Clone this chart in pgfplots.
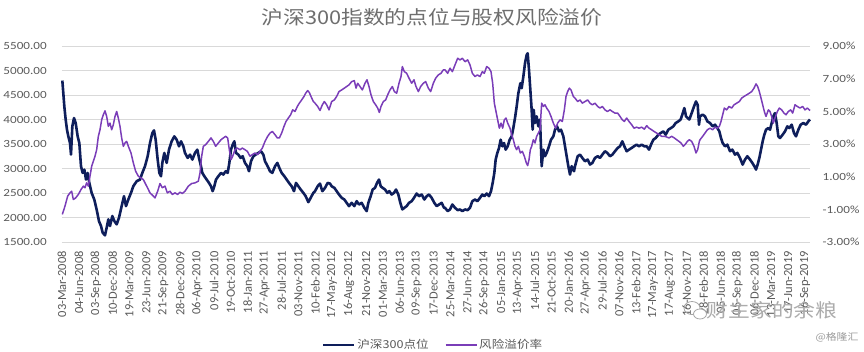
\documentclass[border=0pt]{standalone}
\usepackage{fontspec}
\setmainfont{Carlito}
\newfontfamily\ylabfont{Carlito}[FakeStretch=1.2]
\newfontfamily\cjkw{Noto Sans CJK SC}[FakeStretch=1.15]
\usepackage{pgfplots}
\usepackage{pgfplotstable}
\pgfplotsset{compat=1.18}
\definecolor{navy}{HTML}{0E1E5B}
\definecolor{purp}{HTML}{7A3DB8}
\definecolor{gridc}{HTML}{D9D9D9}
\definecolor{txt}{HTML}{595959}
\definecolor{ttl}{HTML}{6E6E6E}

% o = segment offset (px), z = position in segment (1/3 px), v = value
\pgfplotstableread{
o z v
55 22 4795
55 28 4266
55 32 4000
55 36 3790
55 40 3656
55 45 3520
55 48 3283
55 52 3860
55 57 4030
55 62 3930
55 68 3656
55 73 3520
55 78 3046
55 83 2910
55 88 2978
55 93 2774
55 98 2910
55 103 2706
55 110 2500
55 118 2364
55 125 2160
55 132 1925
55 138 1826
55 143 1690
55 150 1635
55 155 1792
55 160 1962
55 165 1826
55 172 2030
55 178 1928
55 185 1860
55 192 1996
55 200 2232
55 207 2435
55 213 2232
55 220 2368
55 228 2503
55 235 2639
55 245 2740
55 255 2774
55 262 2910
55 270 3046
55 278 3250
55 285 3520
55 292 3724
55 297 3778
55 302 3588
55 308 3182
55 313 2910
55 318 2842
55 322 3114
55 328 3318
55 335 3114
55 342 3385
55 350 3555
55 358 3656
55 365 3588
55 372 3453
55 378 3555
55 385 3453
185 0 3318
185 8 3216
185 15 3283
185 22 3182
185 30 3318
185 37 3385
185 42 3216
185 48 3046
185 52 2910
185 58 2842
185 65 2774
185 72 2706
185 78 2638
185 83 2537
185 88 2638
185 93 2774
185 100 2842
185 108 2910
185 115 2876
185 122 2944
185 128 2910
185 133 3114
185 138 3385
185 143 3487
185 148 3555
185 153 3318
185 160 3283
185 167 3216
185 173 3250
185 180 3114
185 187 3046
185 192 2944
185 198 3148
185 205 3250
185 212 3283
185 220 3318
185 228 3352
185 235 3283
185 240 3148
185 248 3046
185 255 2944
185 262 2910
185 270 3046
185 277 3114
185 283 3012
185 290 2910
185 298 2842
185 305 2774
185 312 2706
185 320 2638
185 327 2537
185 333 2706
185 340 2638
185 347 2571
185 355 2503
185 362 2435
185 370 2313
185 377 2401
185 385 2503
315 0 2537
315 8 2638
315 15 2692
315 22 2537
315 30 2605
315 38 2706
315 45 2692
315 50 2638
315 58 2605
315 65 2537
315 72 2469
315 80 2401
315 88 2367
315 95 2299
315 102 2232
315 110 2299
315 118 2232
315 125 2333
315 132 2265
315 140 2299
315 148 2198
315 155 2130
315 160 2299
315 167 2435
315 173 2571
315 180 2605
315 186 2706
315 192 2774
315 197 2638
315 203 2605
315 210 2571
315 217 2503
315 223 2537
315 230 2469
315 237 2503
315 243 2571
315 250 2469
315 256 2299
315 262 2164
315 268 2198
315 275 2232
315 282 2299
315 290 2333
315 297 2401
315 305 2489
315 312 2435
315 320 2469
315 328 2367
315 335 2435
315 342 2469
315 350 2401
315 358 2299
315 365 2232
315 372 2265
315 380 2299
315 387 2198
445 0 2198
445 8 2130
445 15 2164
445 22 2265
445 30 2198
445 38 2150
445 45 2164
445 52 2130
445 60 2164
445 68 2150
445 75 2198
445 82 2333
445 90 2367
445 97 2333
445 105 2401
445 112 2469
445 118 2435
445 125 2489
445 132 2435
445 138 2537
445 143 2706
445 148 2910
445 152 3182
445 157 3318
445 162 3420
445 167 3588
445 172 3453
445 177 3520
445 182 3385
445 188 3453
445 194 3588
445 200 3656
445 205 3826
445 210 4030
445 215 4266
445 220 4537
445 226 4741
445 230 4639
445 235 4876
445 240 5148
445 245 5317
445 248 5351
445 252 5012
445 256 4605
445 260 4198
445 263 3792
445 266 4198
445 270 3928
445 275 4064
445 280 3860
445 285 4000
445 290 3046
445 295 3385
445 300 3250
445 305 3318
445 312 3453
445 318 3588
445 325 3656
445 330 3792
445 336 3860
445 342 3758
445 348 3792
445 355 3656
445 360 3453
445 365 3250
445 370 3046
445 375 2876
445 380 3046
445 387 2944
575 0 3046
575 8 3250
575 15 3283
575 22 3216
575 30 3148
575 38 3182
575 45 3080
575 52 3114
575 60 3216
575 68 3250
575 75 3216
575 82 3283
575 90 3352
575 97 3318
575 105 3250
575 112 3283
575 120 3352
575 128 3420
575 135 3453
575 142 3555
575 148 3453
575 155 3352
575 162 3385
575 170 3420
575 177 3453
575 185 3487
575 192 3453
575 200 3487
575 208 3453
575 215 3453
575 222 3385
575 228 3487
575 235 3588
575 242 3622
575 250 3690
575 257 3724
575 265 3758
575 272 3690
575 280 3792
575 288 3826
575 295 3860
575 302 3928
575 310 3962
575 317 4000
575 322 4100
575 328 4233
575 333 4064
575 338 4030
575 343 4000
575 350 4130
575 357 4266
575 363 4368
575 368 4300
575 372 3894
700 0 4064
700 8 4100
700 15 4064
700 22 3962
700 30 3928
700 38 3860
700 45 3894
700 52 3826
700 58 3758
700 63 3622
700 68 3520
700 75 3453
700 82 3487
700 90 3352
700 97 3385
700 105 3283
700 112 3318
700 120 3216
700 128 3080
700 135 3182
700 142 3250
700 150 3182
700 157 3114
700 163 3046
700 168 2978
700 173 3080
700 178 3216
700 183 3385
700 188 3555
700 193 3690
700 198 3792
700 205 3826
700 210 3792
700 215 3928
700 220 4064
700 225 4130
700 230 3928
700 235 3656
700 240 3622
700 248 3690
700 255 3758
700 262 3860
700 268 3826
700 275 3894
700 282 3724
700 288 3656
700 295 3792
700 302 3894
700 310 3928
700 318 3894
700 325 3962
700 330 4000
}\hsdata

\pgfplotstableread{
o z v
55 22 -1.31
55 30 -0.80
55 38 -0.19
55 45 0.01
55 50 0.11
55 55 -0.40
55 62 -0.30
55 70 -0.09
55 78 0.21
55 85 0.42
55 90 0.32
55 95 0.62
55 100 0.42
55 105 1.03
55 110 1.64
55 115 1.94
55 120 2.25
55 125 2.65
55 130 3.47
55 135 3.87
55 140 4.48
55 145 4.79
55 150 5.03
55 155 4.69
55 160 4.08
55 165 4.28
55 170 3.87
55 175 4.18
55 180 4.69
55 185 4.99
55 190 4.59
55 195 4.08
55 200 3.37
55 205 2.86
55 210 3.06
55 215 3.16
55 220 2.86
55 228 2.45
55 235 1.84
55 242 1.33
55 250 1.03
55 258 0.92
55 265 0.82
55 275 0.42
55 285 0.01
55 295 -0.19
55 300 -0.30
55 308 0.11
55 315 0.58
55 322 0.32
55 330 0.42
55 337 0.01
55 345 0.11
55 352 -0.09
55 360 0.01
55 368 -0.09
55 375 0.05
55 382 -0.03
185 0 0.11
185 10 0.42
185 20 0.58
185 30 0.62
185 40 0.72
185 45 1.23
185 50 2.25
185 55 2.86
185 62 2.96
185 70 3.16
185 78 3.37
185 85 3.16
185 92 2.86
185 100 3.06
185 108 3.26
185 115 3.37
185 122 3.47
185 128 3.37
185 133 2.65
185 138 2.04
185 143 2.25
185 150 2.65
185 157 2.75
185 165 2.65
185 172 2.75
185 180 2.65
185 187 2.55
185 195 2.25
185 202 2.35
185 210 2.45
185 218 2.35
185 225 2.55
185 232 2.75
185 240 3.16
185 248 3.47
185 255 3.67
185 262 3.77
185 270 3.57
185 277 3.37
185 283 3.37
185 290 3.67
185 297 4.08
185 303 4.38
185 310 4.59
185 317 4.79
185 323 5.09
185 330 4.99
185 337 5.30
185 343 5.50
185 350 5.70
185 357 5.91
185 362 6.11
185 368 6.27
185 373 6.15
185 378 5.91
185 385 5.60
315 0 5.50
315 8 5.30
315 15 5.05
315 22 5.40
315 28 5.60
315 35 5.40
315 42 5.09
315 50 5.60
315 58 5.70
315 65 5.91
315 72 6.21
315 80 6.31
315 88 6.42
315 95 6.52
315 102 6.62
315 110 6.82
315 118 6.88
315 123 6.42
315 128 6.72
315 135 6.52
315 142 6.31
315 150 6.72
315 156 6.93
315 162 6.52
315 168 6.01
315 175 5.60
315 182 5.40
315 188 5.20
315 193 4.93
315 198 5.30
315 205 5.60
315 212 5.70
315 218 6.01
315 225 6.31
315 232 6.52
315 238 6.21
315 245 6.11
315 252 6.72
315 258 7.13
315 262 7.74
315 268 7.43
315 275 7.33
315 282 7.03
315 290 6.72
315 297 6.93
315 303 6.52
315 310 6.21
315 317 6.52
315 325 6.72
315 332 6.82
315 340 6.42
315 347 6.21
315 355 6.72
315 362 7.03
315 370 7.23
315 378 7.33
315 385 7.54
445 0 7.54
445 8 7.33
445 15 7.64
445 22 7.43
445 30 7.84
445 38 8.25
445 45 8.15
445 52 8.25
445 60 8.04
445 68 8.15
445 75 7.84
445 82 7.33
445 90 7.13
445 97 7.23
445 105 7.13
445 112 7.43
445 118 7.33
445 125 7.74
445 132 7.64
445 138 7.43
445 143 6.72
445 148 5.50
445 153 4.99
445 158 4.48
445 163 3.97
445 168 4.28
445 173 3.97
445 178 4.48
445 183 4.59
445 188 4.28
445 195 3.97
445 200 3.57
445 205 3.26
445 210 2.86
445 215 2.65
445 220 2.86
445 226 2.45
445 232 2.55
445 238 2.25
445 244 1.84
445 248 1.68
445 252 2.04
445 256 2.65
445 260 2.86
445 265 3.26
445 270 3.06
445 275 3.47
445 280 3.67
445 285 3.87
445 290 5.50
445 295 5.30
445 300 5.40
445 305 5.20
445 312 4.99
445 318 4.69
445 325 4.28
445 332 3.97
445 338 4.28
445 345 4.48
445 352 4.38
445 358 5.09
445 363 5.91
445 368 6.21
445 373 6.42
445 378 6.31
445 385 5.91
575 0 5.81
575 8 5.60
575 15 5.70
575 22 5.50
575 30 5.60
575 38 5.70
575 45 5.50
575 52 5.40
575 60 5.50
575 68 5.30
575 75 5.20
575 82 5.30
575 90 5.09
575 97 4.99
575 105 5.09
575 112 4.99
575 120 4.89
575 128 4.89
575 135 4.69
575 142 4.48
575 148 4.38
575 155 4.59
575 162 4.38
575 170 4.18
575 177 3.97
575 185 4.03
575 192 3.97
575 200 4.03
575 208 3.91
575 215 4.12
575 222 3.97
575 230 3.87
575 237 3.77
575 245 3.67
575 252 3.57
575 260 3.47
575 268 3.47
575 275 3.43
575 282 3.37
575 290 3.47
575 298 3.37
575 305 3.26
575 312 3.16
575 318 3.06
575 325 2.86
575 330 2.96
575 337 3.16
575 343 3.26
575 350 3.16
575 357 2.86
575 363 2.45
575 368 2.65
575 373 3.16
700 0 3.26
700 8 3.47
700 15 3.67
700 22 3.87
700 30 3.97
700 38 3.87
700 45 4.03
700 52 3.97
700 58 4.08
700 63 4.38
700 68 4.79
700 73 5.20
700 80 5.09
700 87 5.30
700 95 5.20
700 102 5.40
700 110 5.50
700 118 5.60
700 125 5.81
700 132 5.91
700 140 6.01
700 148 6.11
700 155 6.21
700 162 6.42
700 168 6.68
700 173 6.52
700 178 6.21
700 183 5.81
700 188 5.40
700 193 4.99
700 198 4.69
700 205 5.09
700 210 4.99
700 215 4.69
700 220 4.28
700 225 4.59
700 232 4.99
700 238 5.20
700 245 5.09
700 252 4.89
700 258 4.79
700 265 4.99
700 272 5.09
700 278 4.89
700 285 5.40
700 292 5.30
700 300 5.20
700 308 5.30
700 315 5.09
700 322 5.20
700 330 5.05
}\erpdata

\pgfplotsset{
  common/.style={
    scale only axis, width=748bp, height=196bp,
    at={(62bp,110bp)}, anchor=south west,
    xmin=62, xmax=810,
    axis line style={draw=none},
    major tick length=0pt, minor tick num=0,
    /pgf/number format/assume math mode=true,
    tick label style={text=txt},
    clip=false,
  },
}

\begin{document}
\begin{tikzpicture}
\useasboundingbox (0,0) rectangle (864bp,352bp);
\begin{axis}[common,
  ymin=1500, ymax=5500,
  ytick={1500,2000,...,5500},
  ymajorgrids, grid style={gridc, line width=0.9bp},
  yticklabel={\pgfmathprintnumber[fixed,fixed zerofill,precision=2,1000 sep={}]{\tick}},
  yticklabel style={font=\ylabfont\fontsize{11}{13}\selectfont, anchor=east, inner sep=0pt},
  yticklabel shift=15bp,
  xtick={62.0,78.9,95.8,112.7,129.5,146.4,163.3,180.2,197.1,214.0,230.9,247.7,264.6,281.5,298.4,315.3,332.2,349.1,366.0,382.8,399.7,416.6,433.5,450.4,467.3,484.2,501.0,517.9,534.8,551.7,568.6,585.5,602.4,619.2,636.1,653.0,669.9,686.8,703.7,720.6,737.4,754.3,771.2,788.1,805.0},
  xticklabels={03-Mar-2008,04-Jun-2008,03-Sep-2008,10-Dec-2008,19-Mar-2009,23-Jun-2009,21-Sep-2009,28-Dec-2009,06-Apr-2010,09-Jul-2010,19-Oct-2010,18-Jan-2011,27-Apr-2011,28-Jul-2011,03-Nov-2011,10-Feb-2012,17-May-2012,16-Aug-2012,21-Nov-2012,01-Mar-2013,06-Jun-2013,09-Sep-2013,17-Dec-2013,25-Mar-2014,27-Jun-2014,26-Sep-2014,05-Jan-2015,13-Apr-2015,14-Jul-2015,21-Oct-2015,20-Jan-2016,27-Apr-2016,29-Jul-2016,07-Nov-2016,13-Feb-2017,17-May-2017,17-Aug-2017,16-Nov-2017,28-Feb-2018,05-Jun-2018,05-Sep-2018,06-Dec-2018,13-Mar-2019,17-Jun-2019,16-Sep-2019},
  xticklabel style={font=\fontsize{12.5}{14}\selectfont, rotate=90, anchor=east, inner sep=0pt},
  xticklabel shift=9bp,
]
\addplot[navy, line width=2.6bp, line join=round] table[x expr=\thisrow{o}+\thisrow{z}/3, y=v]{\hsdata};
\end{axis}
\begin{axis}[common,
  ymin=-3, ymax=9,
  ytick={-3,-1,...,9},
  axis y line*=right, hide x axis,
  yticklabel={\pgfmathprintnumber[fixed,fixed zerofill,precision=2]{\tick}\%},
  yticklabel style={font=\ylabfont\fontsize{11}{13}\selectfont, anchor=west, inner sep=0pt},
  yticklabel shift=12.5bp,
  legend style={at={(0.496,-0.526)}, anchor=center, legend columns=2, draw=none, fill=none,
    font=\cjkw\fontsize{11}{13}\selectfont, text=txt,
    /tikz/every even column/.append style={column sep=14bp}},
  legend image code/.code={\draw[#1] (0bp,0bp) -- (31bp,0bp);},
]
\addlegendimage{navy, line width=2.6bp}
\addlegendentry{沪深300点位}
\addplot[purp, line width=1.5bp, line join=round] table[x expr=\thisrow{o}+\thisrow{z}/3, y=v]{\erpdata};
\addlegendentry{风险溢价率}
\end{axis}
\node[text=ttl, font=\cjkw\fontsize{19}{22}\selectfont] at (432bp,335bp) {沪深300指数的点位与股权风险溢价};
% watermark
\draw[gray!70, line width=0.8bp] (692bp,44bp) ellipse (8bp and 6.5bp);
\draw[gray!70, line width=0.8bp, fill=white] (700bp,38bp) ellipse (6.5bp and 5bp);
\node[text=gray!65, font=\cjkw\fontsize{19}{22}\selectfont] at (772bp,42bp) {财主家的余粮};
\node[text=gray!80, font=\cjkw\fontsize{9.5}{11}\selectfont] at (837bp,15bp) {@格隆汇};
\end{tikzpicture}
\end{document}
